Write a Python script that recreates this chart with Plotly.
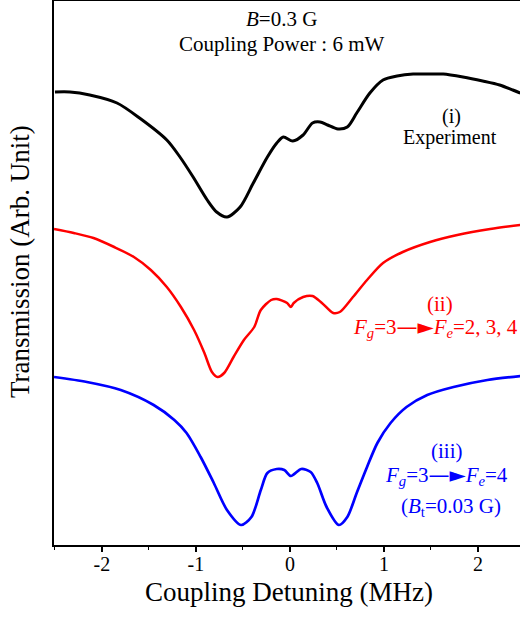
import plotly.graph_objects as go

# Experimental curve (i)
exp_x = [-2.50, -2.34, -2.13, -1.84, -1.60, -1.31, -1.17, -1.03, -0.88, -0.78, -0.67,
         -0.53, -0.39, -0.24, -0.14, -0.07, 0.03, 0.14, 0.24, 0.32, 0.40, 0.51,
         0.61, 0.71, 0.85, 0.99, 1.14, 1.31, 1.49, 1.63, 1.84, 2.05, 2.23, 2.37, 2.45]
exp_y = [4.53, 4.53, 4.50, 4.42, 4.27, 4.05, 3.88, 3.68, 3.45, 3.33, 3.28,
         3.38, 3.62, 3.88, 4.02, 4.08, 4.04, 4.10, 4.22, 4.23, 4.20, 4.16,
         4.18, 4.32, 4.52, 4.65, 4.69, 4.71, 4.71, 4.71, 4.68, 4.64, 4.60, 4.55, 4.52]

# Calculation (ii) Fg=3 -> Fe=2,3,4
calc2_x = [-2.51, -2.30, -2.09, -1.87, -1.66, -1.48, -1.31, -1.16, -1.02, -0.91, -0.83, -0.77,
           -0.70, -0.60, -0.49, -0.38, -0.31, -0.20, -0.14, -0.03, 0.01, 0.04, 0.14, 0.24,
           0.34, 0.46, 0.53, 0.67, 0.82, 0.99, 1.20, 1.49, 1.78, 2.13, 2.45]
calc2_y = [3.16, 3.12, 3.07, 2.98, 2.88, 2.75, 2.58, 2.38, 2.15, 1.92, 1.73, 1.68,
           1.72, 1.88, 2.05, 2.18, 2.35, 2.45, 2.46, 2.42, 2.38, 2.42, 2.48, 2.49,
           2.42, 2.32, 2.33, 2.48, 2.65, 2.82, 2.93, 3.03, 3.10, 3.16, 3.20]

# Calculation (iii) Fg=3 -> Fe=4, Bt=0.03 G
calc3_x = [-2.51, -2.16, -1.80, -1.45, -1.23, -1.10, -0.95, -0.81, -0.67, -0.52, -0.41, -0.31,
           -0.24, -0.14, -0.06, 0.01, 0.12, 0.22, 0.29, 0.39, 0.52, 0.61, 0.71, 0.82, 0.93,
           1.07, 1.24, 1.46, 1.74, 2.10, 2.45]
calc3_y = [1.68, 1.63, 1.55, 1.40, 1.25, 1.12, 0.88, 0.62, 0.35, 0.20, 0.28, 0.55,
           0.72, 0.76, 0.75, 0.69, 0.76, 0.73, 0.62, 0.38, 0.20, 0.28, 0.52, 0.78, 1.02,
           1.22, 1.38, 1.50, 1.58, 1.65, 1.69]

x_ticks = [-2, -1, 0, 1, 2]
x_tick_labels = ["-2", "-1", "0", "1", "2"]

FONT = "Liberation Serif"

fig = go.Figure()
fig.add_trace(go.Scatter(x=exp_x, y=exp_y, mode="lines", line=dict(color="black", width=3, shape="spline", smoothing=0.8)))
fig.add_trace(go.Scatter(x=calc2_x, y=calc2_y, mode="lines", line=dict(color="#ff0000", width=2.5, shape="spline", smoothing=0.8)))
fig.add_trace(go.Scatter(x=calc3_x, y=calc3_y, mode="lines", line=dict(color="#0000ff", width=2.7, shape="spline", smoothing=0.8)))

arrow = '<span style="font-family:DejaVu Sans">—►</span>'

annos = [
    dict(x=-0.09, y=5.26, text="<i>B</i>=0.3 G", color="black", size=21),
    dict(x=-0.09, y=5.01, text="Coupling Power : 6 mW", color="black", size=21),
    dict(x=1.72, y=4.29, text="(i)", color="black", size=20),
    dict(x=1.70, y=4.08, text="Experiment", color="black", size=20),
    dict(x=1.60, y=2.41, text="(ii)", color="#ff0000", size=21),
    dict(x=1.55, y=2.17, text="<i>F<sub>g</sub></i>=3" + arrow + "<i>F<sub>e</sub></i>=2, 3, 4", color="#ff0000", size=21),
    dict(x=1.67, y=0.94, text="(iii)", color="#0000ff", size=21),
    dict(x=1.67, y=0.69, text="<i>F<sub>g</sub></i>=3" + arrow + "<i>F<sub>e</sub></i>=4", color="#0000ff", size=21),
    dict(x=1.71, y=0.38, text="(<i>B</i><sub>t</sub>=0.03 G)", color="#0000ff", size=21),
]
for a in annos:
    fig.add_annotation(x=a["x"], y=a["y"], xref="x", yref="y", text=a["text"], showarrow=False,
                       font=dict(family=FONT, size=a["size"], color=a["color"]),
                       xanchor="center", yanchor="middle")

# axis titles (positions given in pixels, converted to paper coords)
L, T, B = 54, 1, 72
pw, ph = 520 - L, 617 - T - B
bottom_px = 617 - B
fig.add_annotation(x=(20 - L) / pw, y=(bottom_px - 262) / ph, xref="paper", yref="paper",
                   text="Transmission (Arb. Unit)", textangle=-90, showarrow=False,
                   xanchor="center", yanchor="middle", font=dict(family=FONT, size=27, color="black"))
fig.add_annotation(x=(289 - L) / pw, y=(bottom_px - 592) / ph, xref="paper", yref="paper",
                   text="Coupling Detuning (MHz)", showarrow=False,
                   xanchor="center", yanchor="middle", font=dict(family=FONT, size=27, color="black"))

fig.update_layout(
    width=520, height=617,
    margin=dict(l=L, r=0, t=T, b=B),
    plot_bgcolor="white", paper_bgcolor="white",
    showlegend=False,
    font=dict(family=FONT, color="black"),
    xaxis=dict(range=[-2.51, 2.447], tickvals=x_ticks, ticktext=x_tick_labels,
               ticks="outside", ticklen=5, tickwidth=1.5, tickcolor="black",
               minor=dict(dtick=0.5, tick0=0, ticks="outside", ticklen=3, tickwidth=1.2, tickcolor="black"),
               showline=True, linecolor="black", linewidth=2, mirror=True,
               showgrid=False, zeroline=False, ticklabelstandoff=-5,
               tickfont=dict(family=FONT, size=20, color="black")),
    yaxis=dict(range=[0, 5.44], showticklabels=False, ticks="", showline=True, linecolor="black", linewidth=2,
               showgrid=False, zeroline=False),
)

fig.write_html("out.html")
